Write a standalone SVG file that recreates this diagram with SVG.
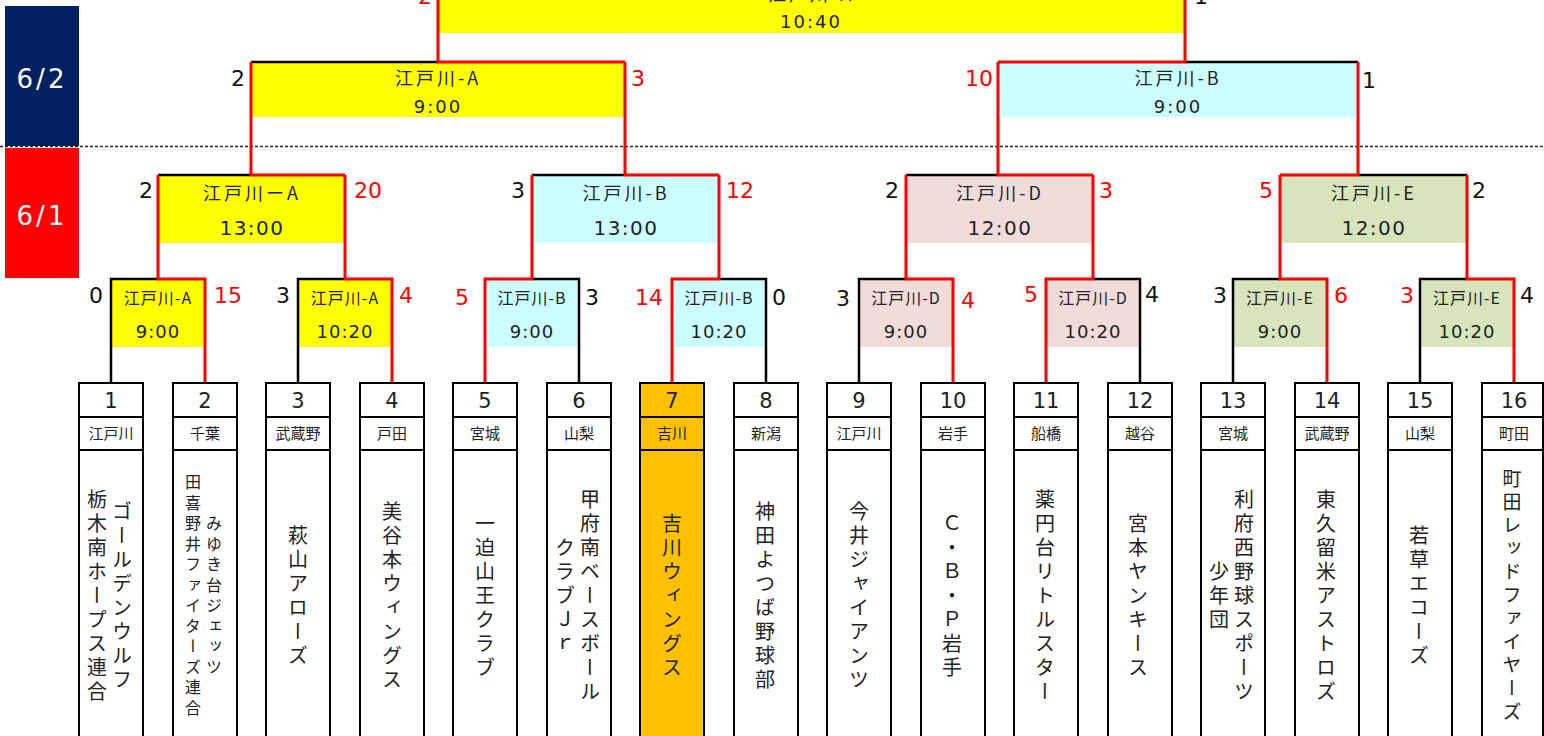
<svg xmlns="http://www.w3.org/2000/svg" width="1544" height="736" viewBox="0 0 1544 736">
<style>
.bg{fill:#fff}
.num{font-family:"DejaVu Sans","Liberation Sans",sans-serif;}
.jp{font-family:"Noto Sans CJK JP","Noto Sans",sans-serif;fill:#222}
.sc{font-family:"DejaVu Sans","Liberation Sans",sans-serif;font-size:22px;text-anchor:middle}
.w{fill:#111}
.r{fill:#f00}
.t1{font-size:16px;text-anchor:middle;letter-spacing:1px}
.t2{font-family:"DejaVu Sans","Liberation Sans",sans-serif;font-size:18px;text-anchor:middle;fill:#222;letter-spacing:1px}
.q1{font-size:18px;text-anchor:middle;letter-spacing:3px}
.q2{font-family:"DejaVu Sans","Liberation Sans",sans-serif;font-size:20px;text-anchor:middle;fill:#222;letter-spacing:1.5px}
.s2{font-family:"DejaVu Sans","Liberation Sans",sans-serif;font-size:18px;text-anchor:middle;fill:#222;letter-spacing:2px}
.ya{fill:#ffff00}.cy{fill:#ccffff}.pk{fill:#f2dcdb}.gr{fill:#d8e4bc}
.box{fill:#fff;stroke:#000;stroke-width:2}
.box7{fill:#ffc000;stroke:#000;stroke-width:2}
.div{stroke:#000;stroke-width:2}
.no{font-family:"DejaVu Sans","Liberation Sans",sans-serif;font-size:21px;text-anchor:middle;fill:#222}
.rg{font-family:"Noto Sans CJK JP",sans-serif;font-size:15px;text-anchor:middle;fill:#222}
.vt{font-family:"Noto Sans CJK JP",sans-serif;font-size:20px;fill:#222;writing-mode:vertical-rl;text-anchor:middle;letter-spacing:4px}
.vs{font-size:16px;letter-spacing:4.5px}
.bl{fill:none;stroke:#000;stroke-width:2.5;stroke-linejoin:miter}
.rl{fill:none;stroke:#f00;stroke-width:3;stroke-linejoin:miter}
.day{font-family:"DejaVu Sans","Liberation Sans",sans-serif;font-size:26px;fill:#fff;text-anchor:middle;letter-spacing:3px}
</style>
<rect class="bg" x="0" y="0" width="1544" height="736"/>

<g id="day-6-2">
<rect x="5" y="6" width="74" height="140" fill="#002060"/>
<text class="day" x="42" y="88">6/2</text>
</g>
<g id="day-6-1">
<rect x="5" y="148" width="74" height="130" fill="#ff0000"/>
<text class="day" x="42" y="225">6/1</text>
</g>
<line id="day-divider" x1="0" y1="146.5" x2="1544" y2="146.5" stroke="#222" stroke-width="1.5" stroke-dasharray="3 2"/>

<!-- Final -->
<g id="final">
<rect class="ya" x="439" y="-22" width="745" height="55"/>
<text class="jp q1" x="811" y="1">江戸川-A</text>
<text class="s2" x="811" y="28">10:40</text>
<text class="sc r" x="425" y="4">2</text>
<text class="sc w" x="1201" y="4">1</text>
</g>

<!-- Semi-finals -->
<g id="sf1">
<rect class="ya" x="252" y="62" width="372" height="55"/>
<text class="jp q1" x="438" y="85">江戸川-A</text>
<text class="s2" x="438" y="113">9:00</text>
<text class="sc w" x="238" y="86">2</text>
<text class="sc r" x="638" y="86">3</text>
</g>
<g id="sf2">
<rect class="cy" x="999" y="62" width="358" height="55"/>
<text class="jp q1" x="1178" y="85">江戸川-B</text>
<text class="s2" x="1178" y="113">9:00</text>
<text class="sc r" x="979" y="86">10</text>
<text class="sc w" x="1369" y="88">1</text>
</g>

<!-- Quarter-finals -->
<g id="qf1">
<rect class="ya" x="159" y="175" width="185" height="68"/>
<text class="jp q1" x="252" y="200">江戸川ーA</text>
<text class="q2" x="252" y="235">13:00</text>
<text class="sc w" x="146" y="198">2</text>
<text class="sc r" x="368" y="198">20</text>
</g>
<g id="qf2">
<rect class="cy" x="533" y="175" width="185" height="68"/>
<text class="jp q1" x="626" y="200">江戸川-B</text>
<text class="q2" x="626" y="235">13:00</text>
<text class="sc w" x="518" y="198">3</text>
<text class="sc r" x="740" y="198">12</text>
</g>
<g id="qf3">
<rect class="pk" x="907" y="175" width="185" height="68"/>
<text class="jp q1" x="1000" y="200">江戸川-D</text>
<text class="q2" x="1000" y="235">12:00</text>
<text class="sc w" x="892" y="198">2</text>
<text class="sc r" x="1106" y="198">3</text>
</g>
<g id="qf4">
<rect class="gr" x="1281" y="175" width="185" height="68"/>
<text class="jp q1" x="1374" y="200">江戸川-E</text>
<text class="q2" x="1374" y="235">12:00</text>
<text class="sc r" x="1266" y="198">5</text>
<text class="sc w" x="1479" y="198">2</text>
</g>

<!-- Round 1 -->
<g id="m1">
<rect class="ya" x="112" y="279" width="92" height="68"/>
<text class="jp t1" x="158" y="304">江戸川-A</text>
<text class="t2" x="158" y="338">9:00</text>
<text class="sc w" x="96" y="303">0</text>
<text class="sc r" x="228" y="303">15</text>
</g>
<g id="m2">
<rect class="ya" x="299" y="279" width="92" height="68"/>
<text class="jp t1" x="345" y="304">江戸川-A</text>
<text class="t2" x="345" y="338">10:20</text>
<text class="sc w" x="283" y="303">3</text>
<text class="sc r" x="406" y="303">4</text>
</g>
<g id="m3">
<rect class="cy" x="486" y="279" width="92" height="68"/>
<text class="jp t1" x="532" y="304">江戸川-B</text>
<text class="t2" x="532" y="338">9:00</text>
<text class="sc r" x="462" y="305">5</text>
<text class="sc w" x="592" y="305">3</text>
</g>
<g id="m4">
<rect class="cy" x="673" y="279" width="92" height="68"/>
<text class="jp t1" x="719" y="304">江戸川-B</text>
<text class="t2" x="719" y="338">10:20</text>
<text class="sc r" x="649" y="305">14</text>
<text class="sc w" x="779" y="305">0</text>
</g>
<g id="m5">
<rect class="pk" x="860" y="279" width="92" height="68"/>
<text class="jp t1" x="906" y="304">江戸川-D</text>
<text class="t2" x="906" y="338">9:00</text>
<text class="sc w" x="843" y="306">3</text>
<text class="sc r" x="968" y="308">4</text>
</g>
<g id="m6">
<rect class="pk" x="1047" y="279" width="92" height="68"/>
<text class="jp t1" x="1093" y="304">江戸川-D</text>
<text class="t2" x="1093" y="338">10:20</text>
<text class="sc r" x="1031" y="302">5</text>
<text class="sc w" x="1152" y="302">4</text>
</g>
<g id="m7">
<rect class="gr" x="1234" y="279" width="92" height="68"/>
<text class="jp t1" x="1280" y="304">江戸川-E</text>
<text class="t2" x="1280" y="338">9:00</text>
<text class="sc w" x="1220" y="303">3</text>
<text class="sc r" x="1341" y="303">6</text>
</g>
<g id="m8">
<rect class="gr" x="1421" y="279" width="92" height="68"/>
<text class="jp t1" x="1467" y="304">江戸川-E</text>
<text class="t2" x="1467" y="338">10:20</text>
<text class="sc r" x="1407" y="303">3</text>
<text class="sc w" x="1527" y="303">4</text>
</g>

<g id="connectors">
<path class="bl" d="M111 383V279H158M298 383V279H345M579 383V279H532M766 383V279H719M859 383V279H906M1140 383V279H1093M1233 383V279H1280M1420 383V279H1467"/>
<path class="bl" d="M158 175H251M532 175H625M906 175H998M1358 175H1467M251 62H438M1185 62H1358M811 -22H1185"/>
<path class="rl" d="M205 383V279H158V175M392 383V279H345V175M485 383V279H532V175M672 383V279H719V175M953 383V279H906V175M1046 383V279H1093V175M1327 383V279H1280V175M1514 383V279H1467V175"/>
<path class="rl" d="M345 175H251V62M719 175H625V62M1093 175H998V62M1280 175H1358V62M625 62H438V-22M998 62H1185V-22M438 -22H811"/>
</g>

<!-- Teams -->
<g id="team1"><rect class="box" x="79" y="383" width="64" height="360"/><line class="div" x1="79" y1="417" x2="143" y2="417"/><line class="div" x1="79" y1="450" x2="143" y2="450"/>
<text class="no" x="111" y="408">1</text><text class="rg" x="111" y="439">江戸川</text>
<text class="vt" x="122" y="597">ゴールデンウルフ</text><text class="vt" x="97" y="597">栃木南ホープス連合</text></g>
<g id="team2"><rect class="box" x="173" y="383" width="64" height="360"/><line class="div" x1="173" y1="417" x2="237" y2="417"/><line class="div" x1="173" y1="450" x2="237" y2="450"/>
<text class="no" x="205" y="408">2</text><text class="rg" x="205" y="439">千葉</text>
<text class="vt vs" x="214" y="597">みゆき台ジェッツ</text><text class="vt vs" x="193" y="597">田喜野井ファイターズ連合</text></g>
<g id="team3"><rect class="box" x="266" y="383" width="64" height="360"/><line class="div" x1="266" y1="417" x2="330" y2="417"/><line class="div" x1="266" y1="450" x2="330" y2="450"/>
<text class="no" x="298" y="408">3</text><text class="rg" x="298" y="439">武蔵野</text>
<text class="vt" x="298" y="597">萩山アローズ</text></g>
<g id="team4"><rect class="box" x="360" y="383" width="64" height="360"/><line class="div" x1="360" y1="417" x2="424" y2="417"/><line class="div" x1="360" y1="450" x2="424" y2="450"/>
<text class="no" x="392" y="408">4</text><text class="rg" x="392" y="439">戸田</text>
<text class="vt" x="392" y="597">美谷本ウィングス</text></g>
<g id="team5"><rect class="box" x="453" y="383" width="64" height="360"/><line class="div" x1="453" y1="417" x2="517" y2="417"/><line class="div" x1="453" y1="450" x2="517" y2="450"/>
<text class="no" x="485" y="408">5</text><text class="rg" x="485" y="439">宮城</text>
<text class="vt" x="485" y="597">一迫山王クラブ</text></g>
<g id="team6"><rect class="box" x="547" y="383" width="64" height="360"/><line class="div" x1="547" y1="417" x2="611" y2="417"/><line class="div" x1="547" y1="450" x2="611" y2="450"/>
<text class="no" x="579" y="408">6</text><text class="rg" x="579" y="439">山梨</text>
<text class="vt" x="590" y="597">甲府南ベースボール</text><text class="vt" x="565" y="597">クラブＪｒ</text></g>
<g id="team7"><rect class="box7" x="640" y="383" width="64" height="360"/><line class="div" x1="640" y1="417" x2="704" y2="417"/><line class="div" x1="640" y1="450" x2="704" y2="450"/>
<text class="no" x="672" y="408">7</text><text class="rg" x="672" y="439">吉川</text>
<text class="vt" x="672" y="597">吉川ウィングス</text></g>
<g id="team8"><rect class="box" x="734" y="383" width="64" height="360"/><line class="div" x1="734" y1="417" x2="798" y2="417"/><line class="div" x1="734" y1="450" x2="798" y2="450"/>
<text class="no" x="766" y="408">8</text><text class="rg" x="766" y="439">新潟</text>
<text class="vt" x="765" y="597">神田よつば野球部</text></g>
<g id="team9"><rect class="box" x="827" y="383" width="64" height="360"/><line class="div" x1="827" y1="417" x2="891" y2="417"/><line class="div" x1="827" y1="450" x2="891" y2="450"/>
<text class="no" x="859" y="408">9</text><text class="rg" x="859" y="439">江戸川</text>
<text class="vt" x="859" y="597">今井ジャイアンツ</text></g>
<g id="team10"><rect class="box" x="921" y="383" width="64" height="360"/><line class="div" x1="921" y1="417" x2="985" y2="417"/><line class="div" x1="921" y1="450" x2="985" y2="450"/>
<text class="no" x="953" y="408">10</text><text class="rg" x="953" y="439">岩手</text>
<text class="vt" x="952" y="597">Ｃ・Ｂ・Ｐ岩手</text></g>
<g id="team11"><rect class="box" x="1014" y="383" width="64" height="360"/><line class="div" x1="1014" y1="417" x2="1078" y2="417"/><line class="div" x1="1014" y1="450" x2="1078" y2="450"/>
<text class="no" x="1046" y="408">11</text><text class="rg" x="1046" y="439">船橋</text>
<text class="vt" x="1045" y="597">薬円台リトルスター</text></g>
<g id="team12"><rect class="box" x="1108" y="383" width="64" height="360"/><line class="div" x1="1108" y1="417" x2="1172" y2="417"/><line class="div" x1="1108" y1="450" x2="1172" y2="450"/>
<text class="no" x="1140" y="408">12</text><text class="rg" x="1140" y="439">越谷</text>
<text class="vt" x="1138" y="597">宮本ヤンキース</text></g>
<g id="team13"><rect class="box" x="1201" y="383" width="64" height="360"/><line class="div" x1="1201" y1="417" x2="1265" y2="417"/><line class="div" x1="1201" y1="450" x2="1265" y2="450"/>
<text class="no" x="1233" y="408">13</text><text class="rg" x="1233" y="439">宮城</text>
<text class="vt" x="1244" y="597">利府西野球スポーツ</text><text class="vt" x="1219" y="597">少年団</text></g>
<g id="team14"><rect class="box" x="1295" y="383" width="64" height="360"/><line class="div" x1="1295" y1="417" x2="1359" y2="417"/><line class="div" x1="1295" y1="450" x2="1359" y2="450"/>
<text class="no" x="1327" y="408">14</text><text class="rg" x="1327" y="439">武蔵野</text>
<text class="vt" x="1326" y="597">東久留米アストロズ</text></g>
<g id="team15"><rect class="box" x="1388" y="383" width="64" height="360"/><line class="div" x1="1388" y1="417" x2="1452" y2="417"/><line class="div" x1="1388" y1="450" x2="1452" y2="450"/>
<text class="no" x="1420" y="408">15</text><text class="rg" x="1420" y="439">山梨</text>
<text class="vt" x="1419" y="597">若草エコーズ</text></g>
<g id="team16"><rect class="box" x="1482" y="383" width="61" height="360"/><line class="div" x1="1482" y1="417" x2="1543" y2="417"/><line class="div" x1="1482" y1="450" x2="1543" y2="450"/>
<text class="no" x="1514" y="408">16</text><text class="rg" x="1514" y="439">町田</text>
<text class="vt" x="1512" y="597" style="font-size:19px;letter-spacing:4.3px">町田レッドファイヤーズ</text></g>
</svg>
